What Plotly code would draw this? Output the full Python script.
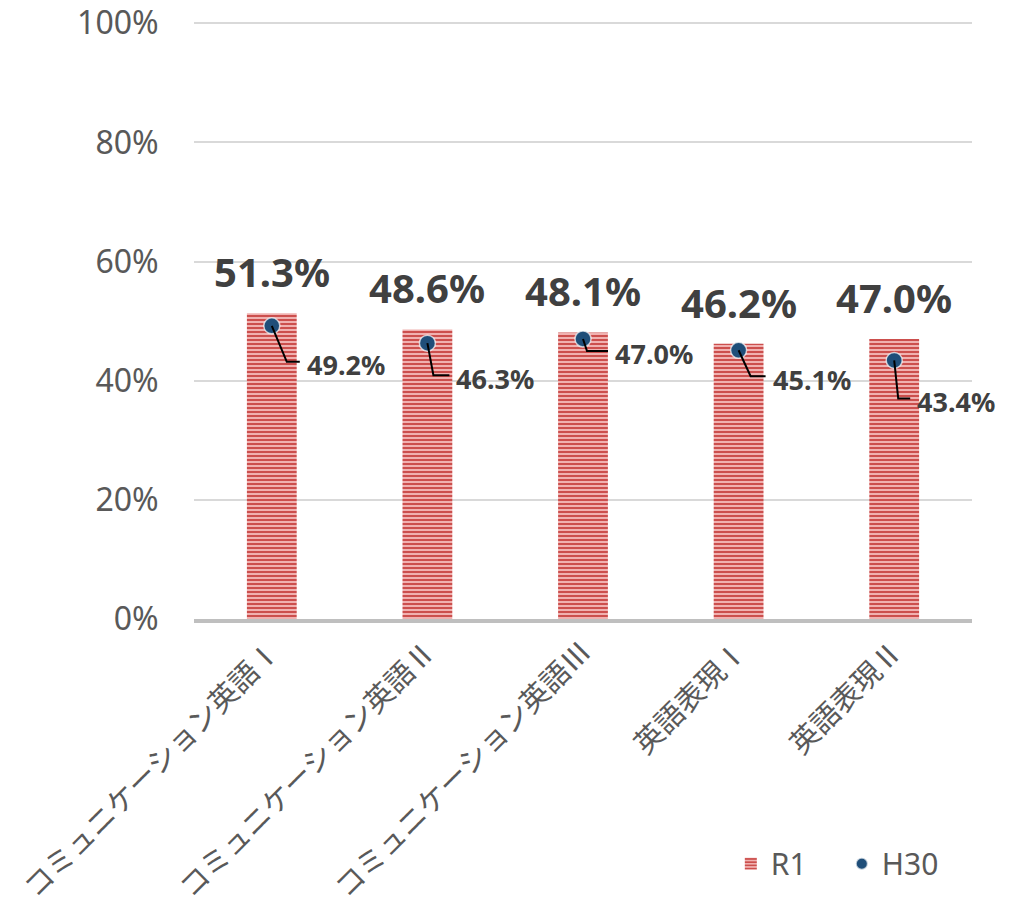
import plotly.graph_objects as go

categories = ["コミュニケーション英語Ⅰ", "コミュニケーション英語Ⅱ", "コミュニケーション英語Ⅲ", "英語表現Ⅰ", "英語表現Ⅱ"]
r1_values = [0.513, 0.486, 0.481, 0.462, 0.470]
h30_values = [0.492, 0.463, 0.470, 0.451, 0.434]
y_ticks = [0, 0.2, 0.4, 0.6, 0.8, 1.0]
y_tick_labels = ["0%", "20%", "40%", "60%", "80%", "100%"]

# leader-line/label pixel offsets (layout, from dot)
label_offsets = [(15, 36, 28), (6, 32, 22), (4, 12, 25), (12, 26, 27), (4, 38, 16)]

GRAY = "#595959"
DARK = "#404040"
FONT = "Noto Sans, Noto Sans CJK JP, sans-serif"

fig = go.Figure()
fig.add_trace(go.Bar(
    x=categories, y=r1_values, name="R1", width=0.32,
    marker=dict(color="#f2b4b3", line=dict(width=0),
                pattern=dict(shape="-", fgcolor="#cc4f4d", bgcolor="#f4bcbb",
                             size=4, solidity=0.55, fillmode="replace")),
    showlegend=True,
))
fig.add_trace(go.Scatter(
    x=categories, y=h30_values, name="H30", mode="markers",
    marker=dict(color="#1f4e79", size=16, line=dict(width=1.5, color="rgba(255,255,255,0.7)")),
))

annotations = []
shapes = []
for i, (c, r, h) in enumerate(zip(categories, r1_values, h30_values)):
    annotations.append(dict(x=c, y=r, text=f"{r*100:.1f}%", showarrow=False,
                            xref="x", yref="y", yanchor="bottom", yshift=12,
                            font=dict(size=40, color=DARK, family=FONT, weight="bold")))
    dx, dy, hx = label_offsets[i]
    shapes.append(dict(type="path", xref="x", yref="y", xsizemode="pixel", ysizemode="pixel",
                       xanchor=i, yanchor=h,
                       path=f"M0,0 L{dx},{-dy} L{hx},{-dy}",
                       line=dict(color="black", width=2)))
    annotations.append(dict(x=c, y=h, text=f"{h*100:.1f}%", showarrow=False,
                            xref="x", yref="y", xanchor="left", yanchor="middle",
                            xshift=hx + 5, yshift=-dy - 3,
                            font=dict(size=27, color=DARK, family=FONT, weight="bold")))

fig.update_layout(
    width=1011, height=904,
    margin=dict(l=186, r=47, t=14, b=293, autoexpand=False),
    plot_bgcolor="white", paper_bgcolor="white",
    font=dict(family=FONT, color=GRAY),
    bargap=0.68,
    annotations=annotations, shapes=shapes,
    legend=dict(orientation="h", x=0.69, y=-0.41, xanchor="left", yanchor="middle",
                font=dict(size=30, color=GRAY, family=FONT), itemsizing="constant",
                entrywidth=66, entrywidthmode="pixels",
                bgcolor="rgba(0,0,0,0)"),
    xaxis=dict(tickangle=-45, tickfont=dict(size=29, color=GRAY, family=FONT),
               showline=True, linecolor="#bfbfbf", linewidth=4, ticks="",
               showgrid=False, automargin=False, range=[-0.5, 4.5]),
    yaxis=dict(range=[0, 1.002], tickvals=y_ticks, ticktext=y_tick_labels,
               tickfont=dict(size=32, color=GRAY, family=FONT), ticklabeloverflow="allow",
               showgrid=True, gridcolor="#d9d9d9", gridwidth=1.5, zeroline=False,
               ticks="outside", ticklen=28, tickcolor="white", automargin=False),
)

fig.write_html("out.html")
